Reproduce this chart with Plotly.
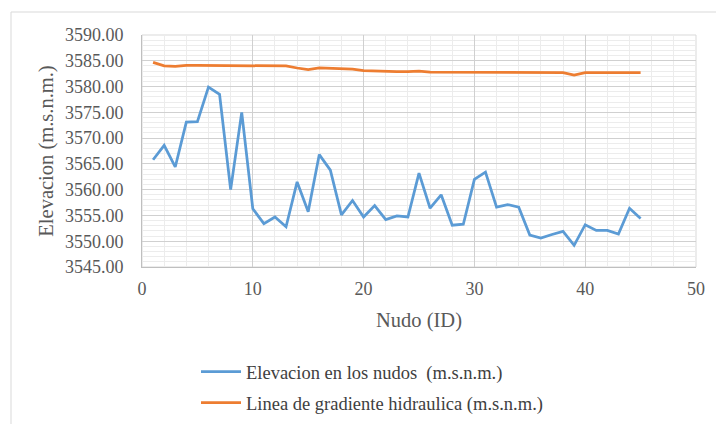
import plotly.graph_objects as go

# Node IDs
nudos = list(range(1, 46))

# Ground elevation at each node (m.s.n.m.)
elevacion = [
    3565.8, 3568.6, 3564.4, 3573.1, 3573.2, 3579.9, 3578.5, 3560.0, 3575.0, 3556.3,
    3553.4, 3554.7, 3552.8, 3561.5, 3555.7, 3566.8, 3563.8, 3555.1, 3557.9, 3554.7,
    3556.9, 3554.2, 3554.9, 3554.7, 3563.2, 3556.4, 3559.0, 3553.1, 3553.3, 3562.0,
    3563.4, 3556.6, 3557.1, 3556.6, 3551.2, 3550.6, 3551.3, 3551.9, 3549.2, 3553.2,
    3552.1, 3552.1, 3551.4, 3556.4, 3554.4,
]

# Hydraulic grade line at each node (m.s.n.m.)
gradiente = [
    3584.7, 3584.0, 3583.9, 3584.1, 3584.1, 3584.1, 3584.1, 3584.1, 3584.1, 3584.1,
    3584.1, 3584.1, 3584.0, 3583.6, 3583.3, 3583.6, 3583.5, 3583.4, 3583.4, 3583.1,
    3583.0, 3582.9, 3582.9, 3582.9, 3583.0, 3582.8, 3582.8, 3582.8, 3582.8, 3582.8,
    3582.8, 3582.8, 3582.8, 3582.8, 3582.8, 3582.8, 3582.8, 3582.7, 3582.2, 3582.7,
    3582.7, 3582.7, 3582.7, 3582.7, 3582.7,
]

serie_elev = "Elevacion en los nudos  (m.s.n.m.)"
serie_grad = "Linea de gradiente hidraulica (m.s.n.m.)"

FONT = "Liberation Serif, Times New Roman, DejaVu Serif, serif"
TXT = "#595959"

fig = go.Figure()
fig.add_trace(go.Scatter(x=nudos, y=elevacion, mode="lines", name=serie_elev,
                         legendgroup="elev",
                         line=dict(color="#5B9BD5", width=2.75)))
fig.add_trace(go.Scatter(x=nudos, y=gradiente, mode="lines", name=serie_grad,
                         legendgroup="grad",
                         line=dict(color="#ED7D31", width=2.75)))

L, R, T, B = 142, 20, 35, 157
W, H = 716, 424
pw, ph = W - L - R, H - T - B

def px_x(p):
    return (p - L) / pw

def px_y(p):
    return (H - B - p) / ph

# Outer chart frame (top and left edges)
frame = dict(color="#d9d9d9", width=1)
shapes = [
    dict(type="line", xref="paper", yref="paper", x0=px_x(11), x1=px_x(720),
         y0=px_y(12), y1=px_y(12), line=frame),
    dict(type="line", xref="paper", yref="paper", x0=px_x(11), x1=px_x(11),
         y0=px_y(12), y1=px_y(430), line=frame),
]

fig.update_layout(
    width=W, height=H,
    margin=dict(l=L, r=R, t=T, b=B, autoexpand=False),
    paper_bgcolor="white", plot_bgcolor="white",
    font=dict(family=FONT, size=18, color=TXT),
    showlegend=True,
    legend=dict(x=px_x(196), y=px_y(353), xanchor="left", yanchor="top",
                font=dict(family=FONT, size=18.5, color="#404040"),
                traceorder="grouped", tracegroupgap=4,
                itemwidth=40, bgcolor="rgba(0,0,0,0)"),
    shapes=shapes,
)

fig.update_xaxes(
    range=[0, 50], dtick=10, tick0=0, automargin=False,
    showgrid=True, gridcolor="#d0d0d0", gridwidth=1,
    minor=dict(dtick=2, showgrid=True, gridcolor="#ececec", gridwidth=1),
    showline=True, linecolor="#bfbfbf", linewidth=1,
    zeroline=False, ticks="", ticklabelstandoff=5,
    tickfont=dict(family=FONT, size=18, color=TXT),
    title=dict(text="Nudo (ID)", font=dict(family=FONT, size=20.5, color=TXT), standoff=15),
)
fig.update_yaxes(
    range=[3545, 3590], dtick=5, tick0=3545, tickformat=".2f", automargin=False,
    showgrid=True, gridcolor="#d0d0d0", gridwidth=1,
    minor=dict(dtick=1, showgrid=True, gridcolor="#ececec", gridwidth=1),
    showline=True, linecolor="#bfbfbf", linewidth=1,
    zeroline=False, ticks="", ticklabelstandoff=14,
    tickfont=dict(family=FONT, size=18, color=TXT),
    title=dict(text="Elevacion (m.s.n.m.)", font=dict(family=FONT, size=20.5, color=TXT), standoff=5),
)
# Right and top edges of the plot area
fig.add_shape(type="rect", xref="paper", yref="paper", x0=0, x1=1, y0=0, y1=1,
              line=dict(color="#d9d9d9", width=1), layer="below")

fig.write_html("out.html")
